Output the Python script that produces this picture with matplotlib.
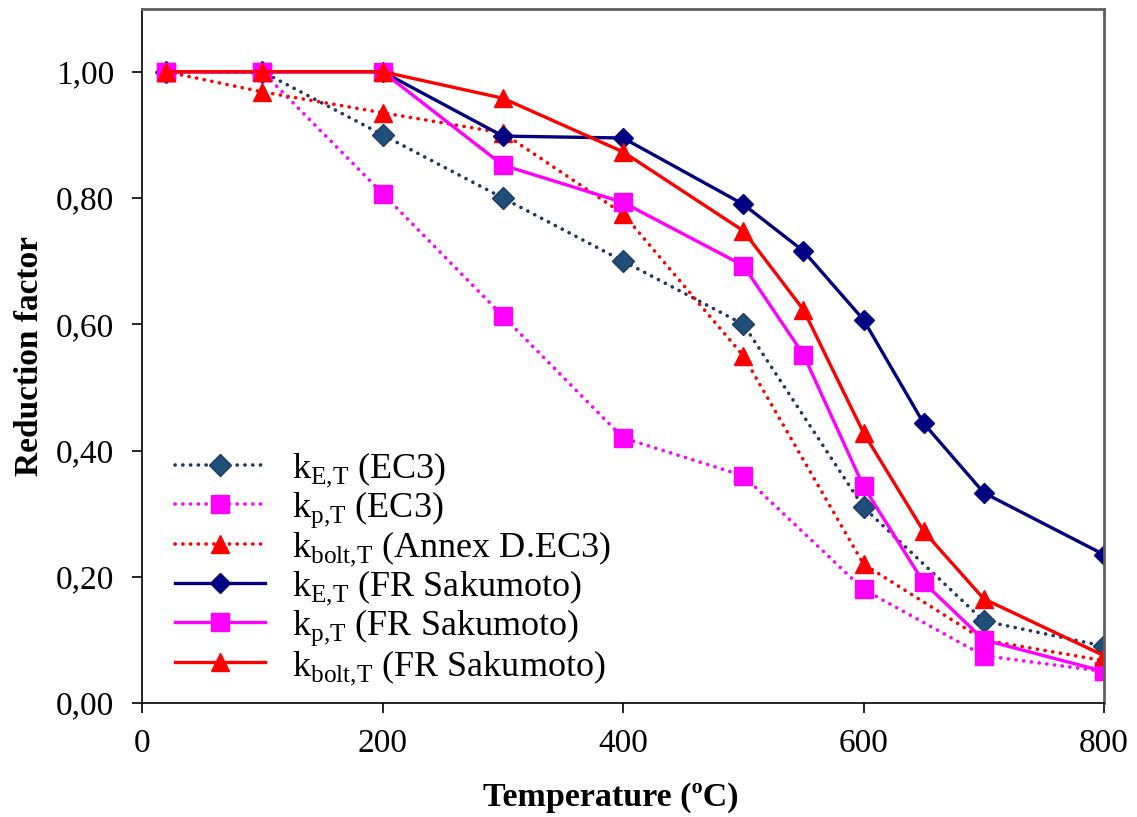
import matplotlib
matplotlib.use("Agg")
import matplotlib.pyplot as plt
from matplotlib.ticker import FuncFormatter

plt.rcParams['font.family'] = ['Liberation Serif', 'DejaVu Serif']
plt.rcParams['mathtext.fontset'] = 'custom'
plt.rcParams['mathtext.rm'] = 'Liberation Serif'
plt.rcParams['lines.dash_capstyle'] = 'round'

# temperatures
tEC3 = [20, 100, 200, 300, 400, 500, 600, 700, 800]
tFR = [20, 100, 200, 300, 400, 500, 550, 600, 650, 700, 800]

# EC3 reduction factors
kE_ec3 = [1.00, 1.00, 0.90, 0.80, 0.70, 0.60, 0.31, 0.13, 0.09]
kp_ec3 = [1.00, 1.00, 0.807, 0.613, 0.42, 0.36, 0.18, 0.075, 0.05]
kbolt_ec3 = [1.00, 0.968, 0.935, 0.903, 0.775, 0.55, 0.22, 0.10, 0.067]

# FR Sakumoto
kE_fr = [1.00, 1.00, 1.00, 0.898, 0.895, 0.79, 0.716, 0.607, 0.443, 0.333, 0.235]
kp_fr = [1.00, 1.00, 1.00, 0.852, 0.793, 0.693, 0.552, 0.343, 0.191, 0.10, 0.05]
kbolt_fr = [1.00, 1.00, 1.00, 0.958, 0.873, 0.748, 0.623, 0.428, 0.272, 0.165, 0.075]

labels = [r'k$_\mathregular{E{,}T}$ (EC3)',
          r'k$_\mathregular{p{,}T}$ (EC3)',
          r'k$_\mathregular{bolt{,}T}$ (Annex D.EC3)',
          r'k$_\mathregular{E{,}T}$ (FR Sakumoto)',
          r'k$_\mathregular{p{,}T}$ (FR Sakumoto)',
          r'k$_\mathregular{bolt{,}T}$ (FR Sakumoto)']

dots = (0, (0.05, 2.1))

fig = plt.figure(figsize=(11.37, 8.17), dpi=100)
ax = fig.add_axes([0.125, 0.1395, 0.846, 0.85])

ax.plot(tEC3, kE_ec3, ls=dots, lw=2.6, color='#1F3864', marker='D', ms=11,
        mfc='#1F4E79', mec='#1F3864', label=labels[0])
ax.plot(tEC3, kp_ec3, ls=dots, lw=2.6, color='#FF00FF', marker='s', ms=13,
        mec='#FF00FF', label=labels[1])
ax.plot(tEC3, kbolt_ec3, ls=dots, lw=2.6, color='#FF0000', marker='^', ms=13,
        label=labels[2])
ax.plot(tFR, kE_fr, ls='-', lw=2.4, color='#000080', marker='D', ms=10,
        label=labels[3])
ax.plot(tFR, kp_fr, ls='-', lw=2.4, color='#FF00FF', marker='s', ms=13,
        label=labels[4])
ax.plot(tFR, kbolt_fr, ls='-', lw=2.4, color='#FF0000', marker='^', ms=13,
        label=labels[5])

ax.set_xlim(0, 800)
ax.set_ylim(0, 1.1)
ax.set_xticks([0, 200, 400, 600, 800])
ax.set_yticks([0, 0.2, 0.4, 0.6, 0.8, 1.0])
ax.yaxis.set_major_formatter(FuncFormatter(lambda v, p: f"{v:.2f}".replace('.', ',')))
ax.tick_params(labelsize=24, length=7, width=1.2, direction='out')
ax.tick_params(axis='y', pad=13)
ax.tick_params(axis='x', pad=11)

for s in ['left', 'bottom']:
    ax.spines[s].set_color('black')
    ax.spines[s].set_linewidth(1.2)
for s in ['top', 'right']:
    ax.spines[s].set_color('#606060')
    ax.spines[s].set_linewidth(2)

ax.set_xlabel('Temperature (ºC)', fontsize=24.5, fontweight='bold')
ax.xaxis.set_label_coords(0.487, -0.113)
ax.set_ylabel('Reduction factor', fontsize=24, fontweight='bold', labelpad=8)

ax.legend(loc='upper left', bbox_to_anchor=(0.034, 0.364), frameon=False,
          fontsize=26, handlelength=2.5, handletextpad=0.75, labelspacing=0.0,
          borderaxespad=0, borderpad=0)

fig.savefig('out.png', dpi=100)
